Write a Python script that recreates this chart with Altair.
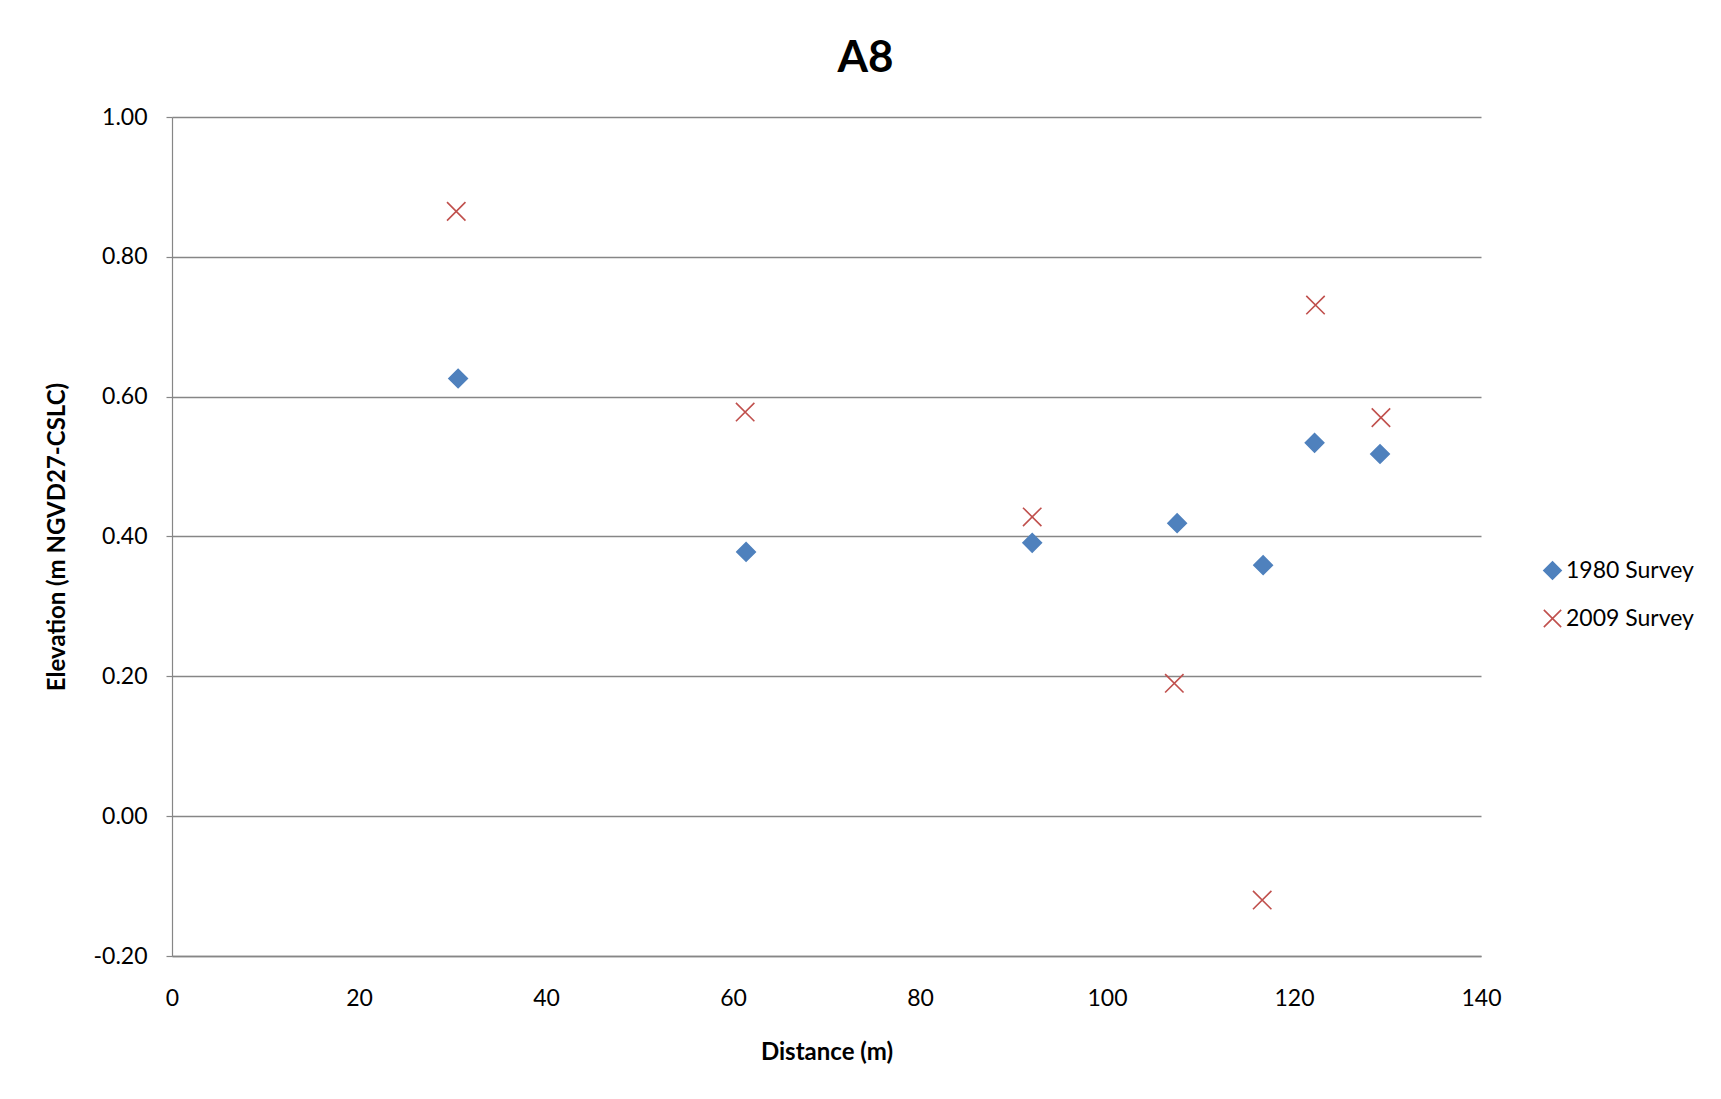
import altair as alt
import pandas as pd

series_names = ["1980 Survey", "2009 Survey"]
dist_1980 = [30.6, 61.4, 92.0, 107.5, 116.7, 122.2, 129.2]
elev_1980 = [0.626, 0.378, 0.391, 0.419, 0.359, 0.534, 0.518]
dist_2009 = [30.4, 61.3, 92.0, 107.2, 116.6, 122.3, 129.3]
elev_2009 = [0.865, 0.578, 0.428, 0.190, -0.120, 0.731, 0.570]
x_ticks = [0, 20, 40, 60, 80, 100, 120, 140]
y_ticks = [-0.2, 0.0, 0.2, 0.4, 0.6, 0.8, 1.0]

df = pd.DataFrame({
    "Distance": dist_1980 + dist_2009,
    "Elevation": elev_1980 + elev_2009,
    "Series": [series_names[0]] * len(dist_1980) + [series_names[1]] * len(dist_2009),
})

FONT = "Lato"
GRID = "#868686"
W, H = 1309, 839
CROSS = "M -1 -1 L 1 1 M -1 1 L 1 -1"
FS = 23

legend = alt.Legend(
    title=None, orient="none", legendX=1369, legendY=442,
    labelFont=FONT, labelFontSize=FS, labelColor="black", labelOffset=2,
    symbolSize=300, symbolStrokeWidth=1.6, rowPadding=23, padding=0,
)

chart = alt.Chart(df).mark_point(opacity=1, strokeWidth=1.6, size=340).encode(
    x=alt.X(
        "Distance:Q",
        scale=alt.Scale(domain=[0, 140], nice=False, zero=False),
        axis=alt.Axis(
            values=x_ticks, title="Distance (m)", grid=False, ticks=False, tickSize=0,
            domainColor=GRID, domainWidth=1.5, labelFont=FONT, labelFontSize=FS,
            labelColor="black", labelBaseline="middle", labelPadding=42, labelFlush=False,
            titleFont=FONT, titleFontSize=24, titleFontWeight="bold", titleColor="black",
            titleX=W / 2, titleY=96, titleBaseline="middle", titleAlign="center",
        ),
    ),
    y=alt.Y(
        "Elevation:Q",
        scale=alt.Scale(domain=[-0.2, 1.0], nice=False, zero=False),
        axis=alt.Axis(
            values=y_ticks, title="Elevation (m NGVD27-CSLC)",
            labelExpr="replace(format(datum.value, '.2f'), '\u2212', '-')",
            grid=True, gridColor=GRID, gridWidth=1.5, gridOpacity=1,
            domainColor=GRID, domainWidth=1.2, tickColor=GRID, tickSize=6, tickWidth=1.2,
            labelFont=FONT, labelFontSize=FS, labelColor="black", labelPadding=19,
            labelFlush=False,
            titleFont=FONT, titleFontSize=24, titleFontWeight="bold", titleColor="black",
            titleX=-115, titleY=H / 2, titleAngle=-90, titleBaseline="middle", titleAlign="center",
        ),
    ),
    shape=alt.Shape("Series:N", scale=alt.Scale(domain=series_names, range=["diamond", CROSS]), legend=legend),
    stroke=alt.Stroke("Series:N", scale=alt.Scale(domain=series_names, range=["#4F81BD", "#C0504D"]), legend=legend),
    fill=alt.Fill("Series:N", scale=alt.Scale(domain=series_names, range=["#4F81BD", "transparent"]), legend=legend),
).properties(
    width=W, height=H,
    title=alt.TitleParams("A8", font=FONT, fontSize=44, fontWeight="bold", color="black",
                          anchor="middle", dx=39, offset=-10, baseline="alphabetic"),
    autosize=alt.AutoSizeParams(type="none"),
    padding={"left": 164, "top": 109, "right": 220, "bottom": 120},
).configure(background="white").configure_view(stroke="transparent", strokeWidth=0)

chart.save("out.html", embed_options={"renderer": "svg", "actions": False})
